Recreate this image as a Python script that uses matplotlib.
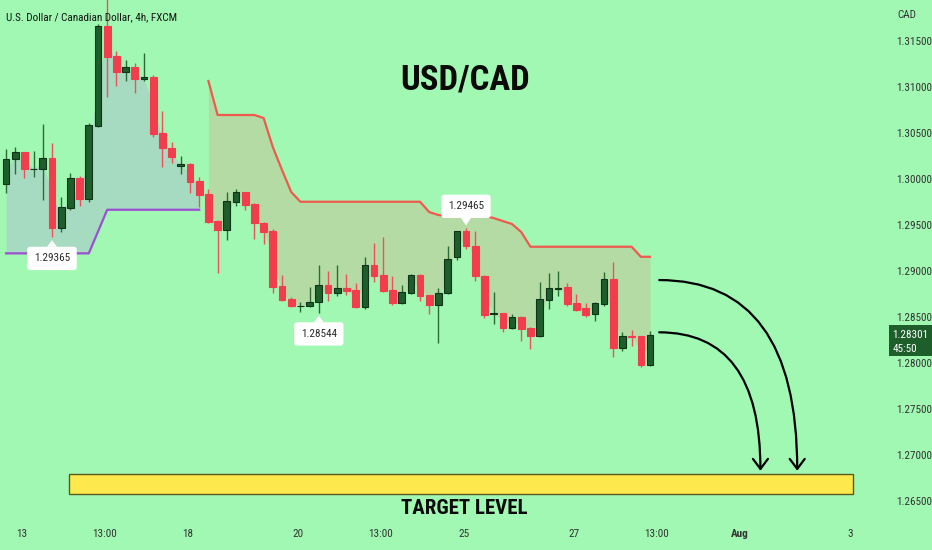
import matplotlib
matplotlib.use('Agg')
import matplotlib.pyplot as plt
import numpy as np
from matplotlib.patches import FancyArrowPatch, Rectangle

plt.rcParams['font.family'] = ['Roboto Condensed', 'Roboto', 'DejaVu Sans']

# velas 4h USD/CAD
opens = [1.29946, 1.30217, 1.30293, 1.30109, 1.30109, 1.30228, 1.29467, 1.29685, 1.30011, 1.29783,
         1.30576, 1.31663, 1.31337, 1.31163, 1.31217, 1.31087, 1.31109, 1.30500, 1.30337, 1.30141,
         1.30163, 1.29978, 1.29837, 1.29543, 1.29446, 1.29753, 1.29859, 1.29728, 1.29522, 1.29435,
         1.28837, 1.28696, 1.28620, 1.28620, 1.28663, 1.28848, 1.28761, 1.28815, 1.28793, 1.28609,
         1.29065, 1.28956, 1.28793, 1.28652, 1.28761, 1.28956, 1.28739, 1.28630, 1.28761, 1.29152,
         1.29435, 1.29272, 1.28946, 1.28533, 1.28544, 1.28380, 1.28500, 1.28380, 1.28293, 1.28685,
         1.28808, 1.28826, 1.28652, 1.28598, 1.28533, 1.28641, 1.28913, 1.28163, 1.28293, 1.28293,
         1.27978]
highs = [1.30326, 1.30348, 1.30293, 1.30304, 1.30598, 1.30391, 1.29804, 1.30065, 1.30033, 1.30609,
         1.31685, 1.31978, 1.31391, 1.31294, 1.31261, 1.31370, 1.31130, 1.30739, 1.30402, 1.30250,
         1.30174, 1.30022, 1.29891, 1.29554, 1.29859, 1.29891, 1.29859, 1.29739, 1.29533, 1.29457,
         1.28956, 1.28717, 1.28663, 1.28826, 1.29065, 1.28995, 1.29065, 1.28967, 1.28870, 1.29152,
         1.29304, 1.29370, 1.28946, 1.28848, 1.28967, 1.28967, 1.28739, 1.28815, 1.29272, 1.29435,
         1.29465, 1.29435, 1.28956, 1.28772, 1.28544, 1.28533, 1.28511, 1.28391, 1.28880, 1.28978,
         1.29000, 1.28870, 1.28750, 1.28652, 1.28663, 1.28989, 1.29098, 1.28337, 1.28359, 1.28293,
         1.28348]
lows = [1.29848, 1.30054, 1.30011, 1.30022, 1.29772, 1.29365, 1.29424, 1.29663, 1.29707, 1.29750,
        1.30565, 1.30891, 1.31011, 1.31065, 1.30935, 1.31065, 1.30457, 1.30130, 1.30174, 1.30054,
        1.29848, 1.29696, 1.29522, 1.28978, 1.29337, 1.29707, 1.29663, 1.29348, 1.29293, 1.28761,
        1.28674, 1.28609, 1.28554, 1.28609, 1.28544, 1.28674, 1.28728, 1.28739, 1.28598, 1.28587,
        1.28880, 1.28772, 1.28630, 1.28647, 1.28750, 1.28674, 1.28533, 1.28217, 1.28750, 1.29120,
        1.29239, 1.28891, 1.28489, 1.28424, 1.28337, 1.28375, 1.28239, 1.28152, 1.28283, 1.28587,
        1.28728, 1.28620, 1.28565, 1.28500, 1.28456, 1.28620, 1.28065, 1.28130, 1.28185, 1.27956,
        1.27967]
closes = [1.30217, 1.30293, 1.30109, 1.30114, 1.30228, 1.29467, 1.29696, 1.30011, 1.29783, 1.30587,
          1.31663, 1.31326, 1.31163, 1.31217, 1.31087, 1.31109, 1.30489, 1.30337, 1.30239, 1.30163,
          1.29967, 1.29826, 1.29533, 1.29446, 1.29761, 1.29859, 1.29717, 1.29522, 1.29424, 1.28826,
          1.28685, 1.28620, 1.28625, 1.28663, 1.28848, 1.28761, 1.28815, 1.28783, 1.28609, 1.29065,
          1.28946, 1.28783, 1.28652, 1.28772, 1.28956, 1.28728, 1.28630, 1.28761, 1.29130, 1.29435,
          1.29272, 1.28946, 1.28522, 1.28544, 1.28380, 1.28500, 1.28370, 1.28293, 1.28696, 1.28815,
          1.28818, 1.28641, 1.28576, 1.28522, 1.28652, 1.28913, 1.28163, 1.28293, 1.28283, 1.27978,
          1.28301]

# supertrend: tramo alcista (morado) y bajista (rojo)
st_up = [1.29192, 1.29192, 1.29192, 1.29192, 1.29192, 1.29192, 1.29192, 1.29192, 1.29192, 1.29192,
         1.29429, 1.29666, 1.29666, 1.29666, 1.29666, 1.29666, 1.29666, 1.29666, 1.29666, 1.29666,
         1.29666, 1.29666]
st_down = [1.31065, 1.30696, 1.30696, 1.30696, 1.30696, 1.30696, 1.30663, 1.30348, 1.30098, 1.29859,
           1.29753, 1.29753, 1.29753, 1.29753, 1.29753, 1.29753, 1.29753, 1.29753, 1.29753, 1.29753,
           1.29753, 1.29753, 1.29753, 1.29753, 1.29641, 1.29609, 1.29598, 1.29598, 1.29598, 1.29598,
           1.29598, 1.29576, 1.29543, 1.29511, 1.29424, 1.29264, 1.29264, 1.29264, 1.29264, 1.29264,
           1.29264, 1.29264, 1.29264, 1.29264, 1.29264, 1.29264, 1.29264, 1.29155, 1.29155]

yticks = [1.265, 1.270, 1.275, 1.280, 1.285, 1.290, 1.295, 1.300, 1.305, 1.310, 1.315]
xtick_pos = [1.75, 10.75, 19.75, 31.75, 40.75, 49.75, 61.75, 70.7, 79.75, 91.75]
xtick_labels = ['13', '13:00', '18', '20', '13:00', '25', '27', '13:00', 'Aug', '3']

# etiquetas de maximos / minimos: (vela, precio, texto, arriba?)
tags = [(5, 1.29365, '1.29365', False), (34, 1.28544, '1.28544', False), (50, 1.29465, '1.29465', True)]

# zona objetivo y flechas
target_left, target_right = 6.85, 92.07
target_low, target_high = 1.26576, 1.26793
arrows = [((71.0, 1.28902), (86.0, 1.26829)), ((71.0, 1.28334), (82.0, 1.26829))]
last_price = 1.28301
countdown = '45:50'

bg = '#a0f8b2'
verde = '#1d5e2b'
rojo = '#f23d4c'

W, H = 932, 550
fig = plt.figure(figsize=(W / 100, H / 100), dpi=100)
fig.patch.set_facecolor(bg)
ax = fig.add_axes([0, 28 / H, 885 / W, 522 / H])
ax.set_facecolor(bg)
for s in ax.spines.values():
    s.set_visible(False)
ax.set_xlim(-0.652, 95.54)
ax.set_ylim(1.26272, 1.31946)

o = np.array(opens); h = np.array(highs); l = np.array(lows); c = np.array(closes)
x = np.arange(len(o))
sube = c >= o
mid = (o + c) / 2

# rellenos del supertrend
n_up = len(st_up)
ax.fill_between(x[:n_up], st_up, mid[:n_up], color='#a7dbc1', lw=0, zorder=1)
ax.fill_between(x[n_up:], st_down, mid[n_up:], color='#b5dba5', lw=0, zorder=1)
ax.plot(x[:n_up], st_up, color='#9b4fd1', lw=1.6, zorder=2)
ax.plot(x[n_up:], st_down, color='#ef5a4e', lw=1.6, zorder=2)

# velas
wick_col = np.where(sube, '#2b6b35', '#f0505c')
ax.vlines(x, l, h, colors=wick_col, lw=1, zorder=3)
ax.bar(x, np.abs(c - o), bottom=np.minimum(o, c), width=0.72,
       color=np.where(sube, verde, rojo), edgecolor=np.where(sube, '#0f3518', rojo),
       linewidth=0.8, zorder=4)

for i, p, txt, arriba in tags:
    dy = 15.8 if arriba else -15.1
    ax.annotate(txt, xy=(i, p), xytext=(0, dy), textcoords='offset points',
                ha='center', va='center', fontsize=8, color='#2a2a2a', zorder=7,
                bbox=dict(boxstyle='round,pad=0.6,rounding_size=0.25', fc='white', ec='none'),
                arrowprops=dict(arrowstyle='wedge,tail_width=0.9', fc='white', ec='none',
                                shrinkA=0, shrinkB=2))

# zona objetivo
ax.add_patch(Rectangle((target_left, target_low), target_right - target_left, target_high - target_low,
                       fc='#fde84e', ec='#5a5a20', lw=1, zorder=3))

for a, b in arrows:
    ax.add_patch(FancyArrowPatch(a, b, connectionstyle='angle3,angleA=0,angleB=90',
                                 arrowstyle='->,head_length=0.6,head_width=0.45', mutation_scale=12,
                                 lw=1.6, color='black', shrinkA=0, shrinkB=0, zorder=5))

# ejes
ax.yaxis.tick_right()
ax.set_yticks(yticks)
ax.set_yticklabels([f'{v:.5f}' for v in yticks])
ax.set_xticks(xtick_pos)
ax.set_xticklabels(xtick_labels)
ax.tick_params(axis='y', length=0, pad=8.3, labelsize=8, labelcolor='#333333')
ax.tick_params(axis='x', length=0, pad=5, labelsize=8, labelcolor='#333333')
for t in ax.get_xticklabels():
    if t.get_text() == 'Aug':
        t.set_fontweight('bold')

# precio actual
yt = ax.get_yaxis_transform()
ax.add_patch(Rectangle((1.0045, last_price - 0.00228), 0.06, 0.00337, transform=yt,
                       fc=verde, ec='none', clip_on=False, zorder=6))
ax.text(1.0085, last_price, f'{last_price:.5f}', transform=yt, fontsize=8, color='white',
        va='center', ha='left', zorder=7, clip_on=False)
ax.text(1.0085, last_price - 0.00152, countdown, transform=yt, fontsize=8, color='white',
        va='center', ha='left', zorder=7, clip_on=False)

fig.text(6 / W, 1 - 17 / H, 'U.S. Dollar / Canadian Dollar, 4h, FXCM', fontsize=8,
         color='#141414', ha='left', va='center')
fig.text(897 / W, 1 - 14.6 / H, 'CAD', fontsize=8, color='#333333', ha='left', va='center')
fig.text(465.5 / W, 1 - 80 / H, 'USD/CAD', fontsize=25, fontweight='bold', color='#0a0a0a',
         ha='center', va='center')
fig.text(464 / W, 1 - 508 / H, 'TARGET LEVEL', fontsize=15, fontweight='bold', color='#0a0a0a',
         ha='center', va='center')

fig.savefig('out.png', dpi=100, facecolor=bg)
